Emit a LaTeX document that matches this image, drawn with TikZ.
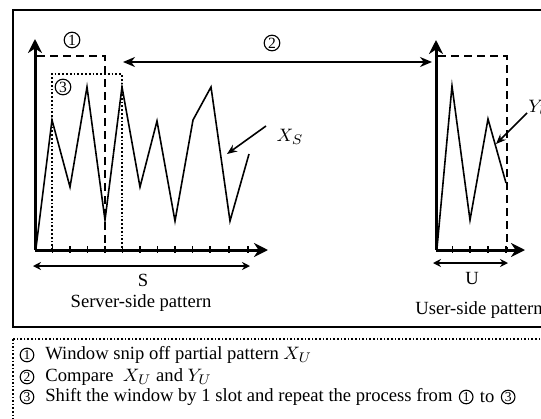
\documentclass[tikz,border=0pt]{standalone}
\usepackage{fontspec}
\setmainfont{Liberation Serif}
\usetikzlibrary{arrows.meta,positioning}

\tikzset{
  axis/.style={line width=1.5pt, -{Stealth[length=7pt,width=7pt]}},
  signal/.style={line width=0.8pt, line join=miter},
  window/.style={line width=1pt, dash pattern=on 4pt off 2.5pt},
  shiftwin/.style={line width=0.9pt, densely dotted},
  pointer/.style={line width=0.8pt, -{Stealth[length=5pt,width=4pt]}},
  span/.style={line width=0.9pt, {Stealth[length=4pt,width=4pt]}-{Stealth[length=4pt,width=4pt]}},
  compare/.style={line width=1.2pt, {Stealth[length=6pt,width=5pt]}-{Stealth[length=6pt,width=5pt]}},
  lbl/.style={font=\fontsize{9.3}{11}\selectfont, inner sep=0pt},
  circnum/.style={draw, circle, line width=0.55pt, inner sep=0pt, minimum size=6.8pt,
    font=\fontsize{6.8}{7}\selectfont},
  bigcirc/.style={circnum, minimum size=7.8pt, font=\fontsize{7.8}{8}\selectfont},
}

\begin{document}
\begin{tikzpicture}[x=0.5pt,y=-0.5pt]
    \useasboundingbox (0,0) rectangle (541,418);
    \clip (0,0) rectangle (541,418);

    % Frames
    \draw[line width=1pt] (13,10) rectangle (560,327);
    \draw[line width=0.8pt, densely dotted] (13,339) rectangle (560,430);

    % Server-side axes
    \coordinate (so) at (35,250);
    \draw[axis] (so) -- (35,39);
    \draw[axis] (so) -- (268,250);
    \foreach \x in {52.5,70,87.5,105,122.5,140,157.5,175,192.5,210,229,248} {
        \draw[line width=0.8pt] (\x,246) -- (\x,253);
    }

    % Server-side pattern X_S
    \draw[signal] (36,248) -- (52,120) -- (70,187) -- (87,87) -- (105,220)
        -- (122,87) -- (140,187) -- (157,121) -- (175,221) -- (193,120)
        -- (211,87) -- (230,221) -- (249,154);

    % Windows
    \draw[window] (37,56) -- (105,56) -- (105,250);
    \draw[shiftwin] (52,250) -- (52,74) -- (122,74) -- (122,250);
    \node[bigcirc] (c1) at (72,40) {1};
    \node[bigcirc] (c3) at (63,87) {3};

    % User-side axes
    \coordinate (uo) at (436,250);
    \draw[axis] (uo) -- (436,40);
    \draw[axis] (uo) -- (525,250);
    \foreach \x in {452.5,470,488,506} {
        \draw[line width=0.8pt] (\x,246) -- (\x,253);
    }

    % User-side pattern Y_U
    \draw[signal] (437,248) -- (452,86) -- (470,220) -- (488,119) -- (506,183);
    \draw[window] (438,56) -- (507,56) -- (507,250);

    % Comparison
    \coordinate (cmpl) at (123,62);
    \coordinate (cmpr) at (432,62);
    \draw[compare] (cmpl) -- (cmpr);
    \node[bigcirc] (c2) at (272,43) {2};

    % Pattern labels
    \node[lbl] (xs) at (290,137) {$X_S$};
    \coordinate (xsfrom) at (266,126);
    \coordinate (xsto) at (227,154);
    \draw[pointer] (xsfrom) -- (xsto);
    \node[lbl, anchor=west] (yu) at (528,108) {$Y_U$};
    \coordinate (yufrom) at (527,113);
    \coordinate (yuto) at (496,144);
    \draw[pointer] (yufrom) -- (yuto);

    % Lengths
    \coordinate (sl) at (33,266);
    \coordinate (sr) at (250,266);
    \draw[span] (sl) -- (sr);
    \node[lbl] (slen) at (143,280) {S};
    \coordinate (ul) at (433,263);
    \coordinate (ur) at (508,263);
    \draw[span] (ul) -- (ur);
    \node[lbl] (ulen) at (472,278) {U};

    \node[lbl] (server) at (141,303) {Server-side pattern};
    \node[lbl, anchor=west] (user) at (415,310) {User-side pattern};

    % Legend
    \node[circnum] (k1) at (27,355) {1};
    \node[lbl, anchor=west] (t1) at (45,355) {Window snip off partial pattern $X_U$};
    \node[circnum] (k2) at (27,377) {2};
    \node[lbl, anchor=west] (t2) at (45,377) {Compare\ \ $X_U$ and $Y_U$};
    \node[circnum] (k3) at (27,397) {3};
    \node[lbl, anchor=west] (t3) at (45,397) {Shift the window by 1 slot and repeat the process from};
    \node[circnum, right=3pt of t3] (k3a) {1};
    \node[lbl, right=3pt of k3a] (t3b) {to};
    \node[circnum, right=3pt of t3b] (k3b) {3};
\end{tikzpicture}
\end{document}
